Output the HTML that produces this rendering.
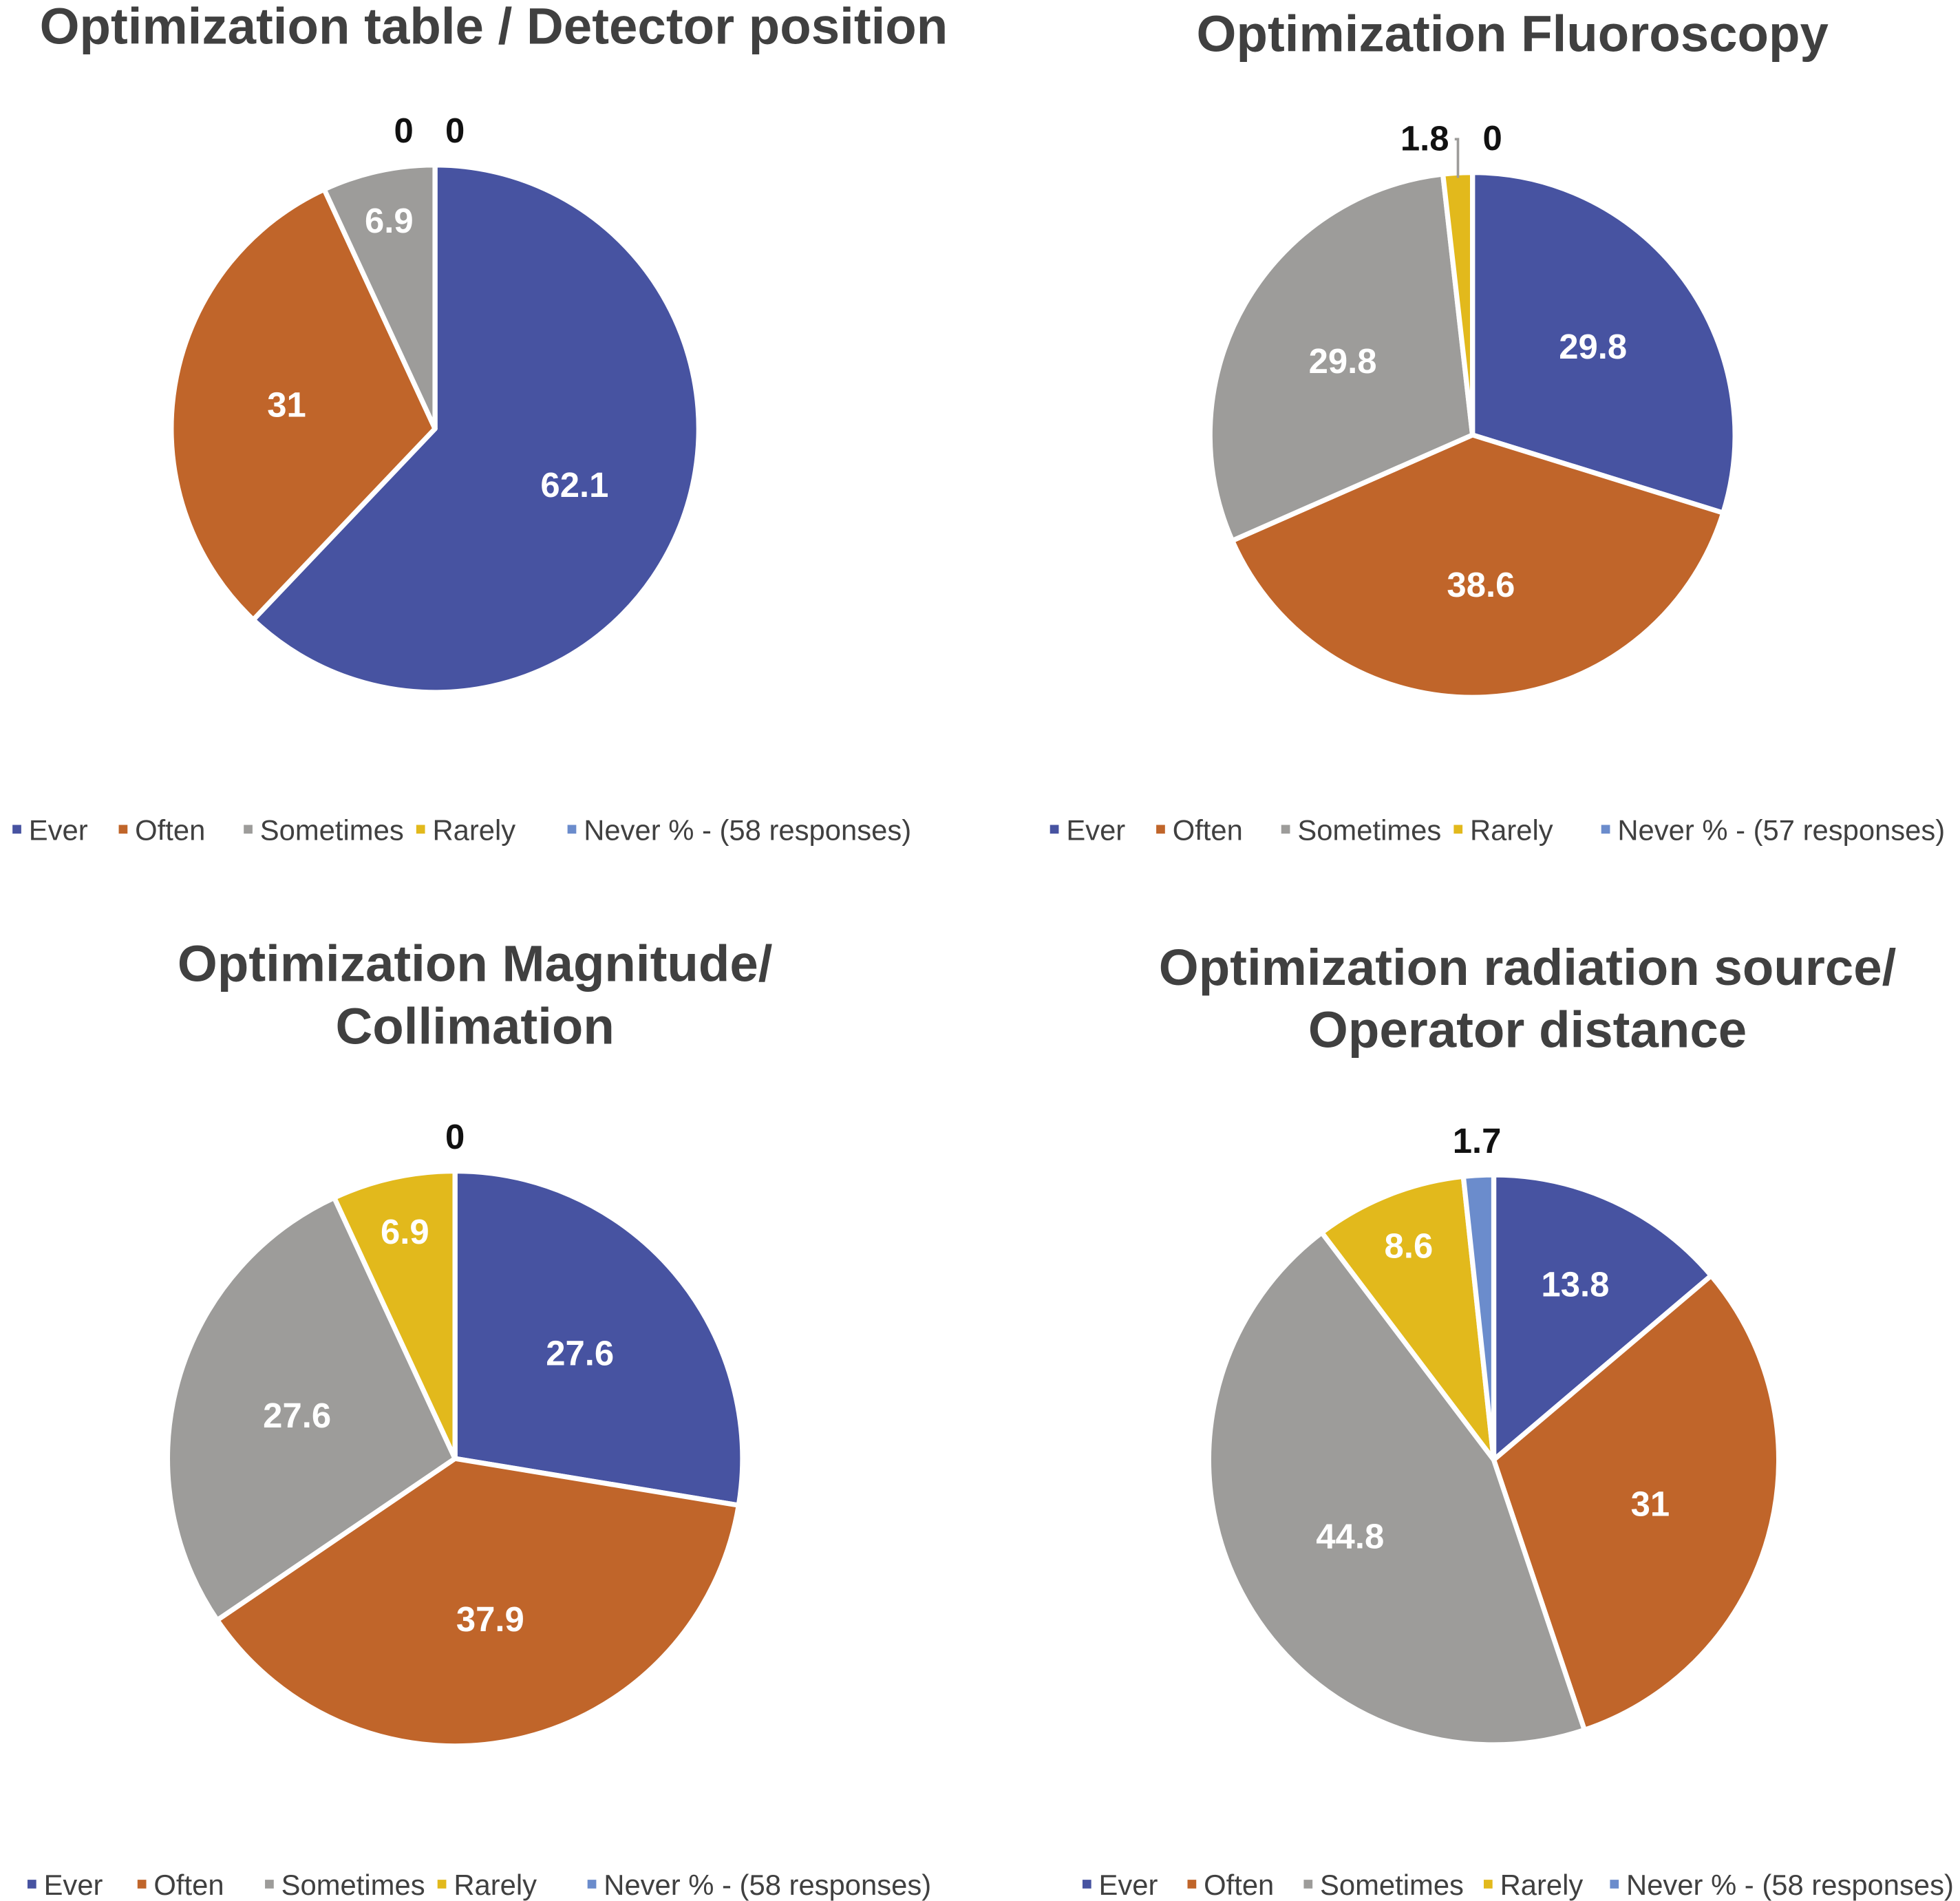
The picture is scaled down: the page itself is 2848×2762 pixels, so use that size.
<!DOCTYPE html>
<html><head><meta charset="utf-8"><style>
html,body{margin:0;padding:0;background:#fff;}
svg{display:block;}
text{font-family:"Liberation Sans",Arial,sans-serif;}
</style></head><body>
<svg id="chart" width="2848" height="2762" viewBox="0 0 1568 1521" preserveAspectRatio="none" xmlns="http://www.w3.org/2000/svg"></svg>
<script>
const categories = ["Ever","Often","Sometimes","Rarely","Never"];
const colors = ["#4753a1","#c0652a","#9d9c9a","#e2b91c","#6b8ccc"];
const titles = [["Optimization table / Detector position"],["Optimization Fluoroscopy"],["Optimization Magnitude/","Collimation"],["Optimization radiation source/","Operator distance"]];
const values1 = [62.1,31,6.9,0,0];
const values2 = [29.8,38.6,29.8,1.8,0];
const values3 = [27.6,37.9,27.6,6.9,0];
const values4 = [13.8,31,44.8,8.6,1.7];
const responses = ["58","57","58","58"];
const allValues = [values1,values2,values3,values4];
const layout = [
 {cx:348,cy:343,r:211,tx:395,ty:20,ly:664,lx:10,offs:[0,85,185,323,444]},
 {cx:1178,cy:348,r:210,tx:1210,ty:26,ly:664,lx:840,offs:[0,85,185,323,441],leader:true},
 {cx:364,cy:1167,r:230,tx:380,ty:770,ly:1508,lx:22,offs:[0,88,190,328,448]},
 {cx:1195,cy:1168,r:228,tx:1222,ty:773,ly:1508,lx:866,offs:[0,84,177,321,422]}
];
const NS="http://www.w3.org/2000/svg";
const svg=document.getElementById('chart');
function mk(tag,attrs,parent){const e=document.createElementNS(NS,tag);for(const k in attrs)e.setAttribute(k,attrs[k]);(parent||svg).appendChild(e);return e;}
function pt(cx,cy,r,a){return [cx+r*Math.sin(a),cy-r*Math.cos(a)];}
allValues.forEach((vals,ci)=>{
  const L=layout[ci];
  const g=mk('g',{});
  
  
  titles[ci].forEach((line,li)=>{
    const t=mk('text',{x:L.tx,y:L.ty+li*50+15,'text-anchor':'middle','font-size':41,'font-weight':'bold',fill:'#404040'},g);
    t.textContent=line;
    
    
  });
  const total=vals.reduce((a,b)=>a+b,0);
  let acc=0;const outside=[];
  vals.forEach((v,i)=>{
    const a0=acc/total*2*Math.PI;acc+=v;const a1=acc/total*2*Math.PI;
    if(v>0){
      const p0=pt(L.cx,L.cy,L.r,a0),p1=pt(L.cx,L.cy,L.r,a1);
      const large=(a1-a0)>Math.PI?1:0;
      const p=mk('path',{d:`M${L.cx},${L.cy}L${p0[0]},${p0[1]}A${L.r},${L.r} 0 ${large} 1 ${p1[0]},${p1[1]}Z`,fill:colors[i],stroke:'#fff','stroke-width':4,'stroke-linejoin':'round'},g);
      
      
    }
    const am=(a0+a1)/2;
    if(v>=5){
      const frac = v<10 ? 0.81 : (v<20 ? 0.68 : 0.57);
      const q=pt(L.cx,L.cy,L.r*frac,am);
      const t=mk('text',{x:q[0],y:q[1]+10,'text-anchor':'middle','font-size':28,'font-weight':'bold',fill:'#fff'},g);
      t.textContent=String(v);
      
      
    } else {
      const q=pt(L.cx,L.cy,L.r+24,am);
      outside.push({x:q[0],y:q[1],v:v,i:i,a:am});
    }
  });
  for(let k=1;k<outside.length;k++){
    const a=outside[k-1],b=outside[k];
    if(Math.abs(a.x-b.x)<40&&Math.abs(a.y-b.y)<30){a.x-=25;b.x+=16;}
  }
  outside.forEach(o=>{
    const t=mk('text',{x:o.x,y:o.y+6,'text-anchor':'middle','font-size':28,'font-weight':'bold',fill:'#111'},g);
    t.textContent=String(o.v);
    
    
    if(L.leader && o.v>0){
      const e=pt(L.cx,L.cy,L.r-4,o.a);
      const ln=mk('polyline',{points:`${o.x+24},${o.y-3} ${e[0]},${o.y-3} ${e[0]},${e[1]}`,fill:'none',stroke:'#9d9c9a','stroke-width':2},g);
      
      
    }
  });
  categories.forEach((c,i)=>{
    const x=L.lx+L.offs[i];
    const lg=mk('g',{},g);
    
    
    mk('rect',{x:x,y:L.ly-4,width:7,height:7,fill:colors[i]},lg);
    const t=mk('text',{x:x+13,y:L.ly+8,'font-size':23,fill:'#404040'},lg);
    t.textContent = i===4 ? 'Never % - ('+responses[ci]+' responses)' : c;
  });
});
</script>
</body></html>
